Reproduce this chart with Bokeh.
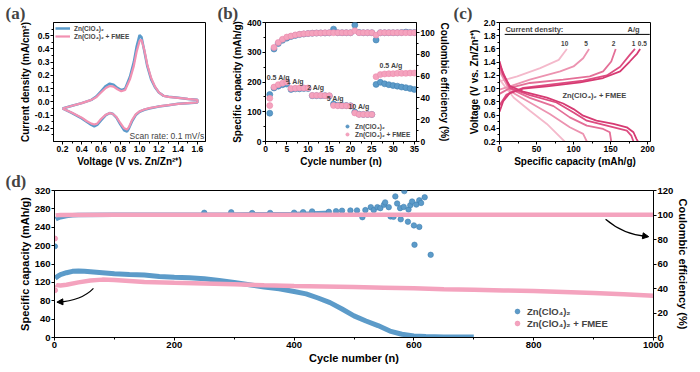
from bokeh.plotting import figure
from bokeh.layouts import column, row
from bokeh.models import (Range1d, LinearAxis, Legend, LegendItem, Label, Arrow,
                          NormalHead, SingleIntervalTicker, PrintfTickFormatter)
from bokeh.embed import file_html
from bokeh.resources import INLINE

# ---------------- (a) CV curves ----------------
cv_v_anodic = [0.2, 0.3, 0.4, 0.5, 0.55, 0.6, 0.65, 0.69, 0.73, 0.77, 0.81, 0.85, 0.9, 0.94,
               0.97, 1.0, 1.02, 1.05, 1.08, 1.12, 1.16, 1.2, 1.25, 1.3, 1.4, 1.5, 1.6]
cv_j_anodic_zn = [-0.05, -0.03, -0.01, 0.015, 0.04, 0.08, 0.12, 0.138, 0.13, 0.105, 0.088, 0.1,
                  0.19, 0.3, 0.42, 0.505, 0.49, 0.38, 0.27, 0.17, 0.11, 0.07, 0.045, 0.038,
                  0.03, 0.022, 0.015]
cv_j_anodic_fmee = [-0.05, -0.03, -0.01, 0.015, 0.035, 0.07, 0.105, 0.12, 0.115, 0.095, 0.08,
                    0.09, 0.17, 0.27, 0.38, 0.46, 0.47, 0.39, 0.28, 0.18, 0.115, 0.072, 0.045,
                    0.038, 0.03, 0.022, 0.015]
cv_v_cathodic = [1.6, 1.5, 1.4, 1.3, 1.2, 1.1, 1.05, 1.0, 0.96, 0.92, 0.89, 0.87, 0.84, 0.8,
                 0.76, 0.72, 0.69, 0.65, 0.6, 0.56, 0.53, 0.5, 0.45, 0.4, 0.3, 0.2]
cv_j_cathodic_zn = [-0.005, -0.01, -0.015, -0.025, -0.035, -0.05, -0.06, -0.075, -0.1, -0.15,
                    -0.2, -0.225, -0.215, -0.17, -0.12, -0.09, -0.085, -0.1, -0.14, -0.175,
                    -0.185, -0.175, -0.15, -0.125, -0.085, -0.05]
cv_j_cathodic_fmee = [-0.005, -0.01, -0.015, -0.025, -0.035, -0.048, -0.058, -0.072, -0.095,
                      -0.14, -0.19, -0.21, -0.2, -0.16, -0.115, -0.09, -0.085, -0.097, -0.13,
                      -0.165, -0.172, -0.165, -0.145, -0.12, -0.083, -0.05]

# ---------------- (b) rate performance ----------------
rate_cycles = list(range(1, 36))
rate_cap_zn = [158, 180, 186, 191, 193, 175, 177, 177, 178, 178, 154, 154, 154, 154, 153,
               126, 122, 121, 121, 120, 99, 92, 91, 91, 91, 192, 199, 194, 191, 188, 186,
               183, 181, 178, 175]
rate_cap_fmee = [145, 183, 191, 196, 200, 178, 179, 180, 180, 180, 155, 155, 155, 154, 154,
                 121, 120, 120, 120, 119, 96, 91, 91, 91, 91, 218, 225, 227, 228, 228, 229,
                 229, 229, 230, 230]
rate_ce_zn = [26, 85, 90, 93, 95, 96.5, 97.5, 98.3, 98.8, 99.2, 99.5, 99.7, 99.8, 99.8, 99.9,
              103.3, 100, 100, 100, 100, 107, 100.3, 100, 100, 100, 93.3, 100, 100, 100, 100,
              100, 100.2, 100.6, 100.3, 100.2]
rate_ce_fmee = [33, 86.5, 91, 94, 96, 97, 98, 98.6, 99, 99.3, 99.6, 99.7, 99.8, 99.9, 100,
                100, 100, 100, 100, 100, 101.8, 100, 100, 100, 100, 97.8, 100, 100, 100, 100,
                100, 100, 100, 100, 100]

# ---------------- (c) GCD profiles ----------------
gcd_rates = ["0.5", "1", "2", "5", "10"]
chg_cap_05 = [0, 5, 14, 32, 64, 109, 140, 163, 176, 186, 190]
chg_v_05 = [0.65, 0.81, 0.935, 1.0, 1.035, 1.095, 1.16, 1.26, 1.41, 1.53, 1.6]
chg_cap_1 = [0, 9.5, 32, 68, 113, 145, 163, 176, 183]
chg_v_1 = [0.745, 0.91, 1.01, 1.06, 1.12, 1.2, 1.33, 1.51, 1.6]
chg_cap_2 = [0, 14, 41, 86, 122, 140, 151, 157]
chg_v_2 = [0.92, 1.01, 1.085, 1.135, 1.185, 1.26, 1.41, 1.6]
chg_cap_5 = [0, 14, 41, 82, 100, 113, 121]
chg_v_5 = [0.985, 1.035, 1.135, 1.26, 1.335, 1.46, 1.6]
chg_cap_10 = [0, 24, 55, 80, 91]
chg_v_10 = [1.11, 1.185, 1.31, 1.435, 1.6]
dis_cap_05 = [0, 5, 14, 32, 64, 86, 100, 113, 131, 154, 172, 181, 185, 187]
dis_v_05 = [1.415, 1.215, 1.04, 0.955, 0.865, 0.775, 0.69, 0.59, 0.515, 0.465, 0.415, 0.34, 0.24, 0.2]
dis_cap_1 = [0, 14, 41, 77, 100, 118, 145, 172, 178, 181]
dis_v_1 = [1.365, 1.01, 0.9, 0.79, 0.64, 0.515, 0.44, 0.365, 0.29, 0.2]
dis_cap_2 = [0, 14, 41, 73, 95, 118, 140, 149, 151]
dis_v_2 = [1.315, 1.0, 0.86, 0.735, 0.565, 0.44, 0.39, 0.34, 0.2]
dis_cap_5 = [0, 14, 41, 68, 95, 113, 118]
dis_v_5 = [1.265, 0.965, 0.79, 0.615, 0.415, 0.315, 0.2]
dis_cap_10 = [0, 19, 41, 64, 88]
dis_v_10 = [1.14, 0.865, 0.665, 0.465, 0.2]

# ---------------- (d) long cycling ----------------
cyc_cap_zn = [1, 5, 10, 20, 30, 40, 50, 60, 80, 100, 125, 150, 175, 200, 225, 250, 275, 300,
              325, 350, 375, 400, 420, 440, 460, 480, 500, 520, 540, 560, 580, 600, 620, 650, 700]
cap_zn = [129, 133, 137, 141, 144, 145, 144, 143, 141, 139, 137, 136, 133, 131, 130, 128, 124,
          120, 115, 110, 106, 100, 95, 86, 76, 62, 47, 36, 26, 14, 7, 3.5, 2, 1.2, 1]
cyc_cap_fmee = [2, 3, 10, 20, 40, 60, 80, 100, 125, 150, 200, 250, 300, 350, 400, 450, 500,
                550, 600, 650, 700, 750, 800, 850, 900, 950, 1000]
cap_fmee = [115, 114, 113, 115, 120, 124, 126, 125, 123, 121, 119, 117.5, 116, 113.5, 112, 111,
            110, 108.5, 107, 105, 104, 102.5, 101, 99, 97, 94, 91]
cyc_ce_zn = [2, 5, 10, 20, 30, 40, 100, 200, 300, 400, 430, 460]
ce_zn = [96.5, 97.3, 98.2, 99.2, 99.7, 100, 100.2, 100.2, 100.4, 100.8, 101.2, 101.8]
cyc_ce_fmee = [2, 10, 100, 300, 500, 700, 900, 1000]
ce_fmee = [99.7, 100.1, 100.2, 100.2, 100.2, 100.2, 100.2, 100.2]
scat_cyc_zn = [250, 295, 330, 360, 400, 415, 430, 458, 470, 480, 494, 505, 514, 519, 528, 533,
               539, 544, 550, 552, 558, 561, 566, 569, 572, 577, 578, 583, 584, 590, 591, 594,
               597, 600, 601, 604, 609, 609, 612, 618, 628]
scat_ce_zn = [101.8, 102.2, 101.6, 101.7, 101.9, 102.3, 102.9, 102.6, 103.1, 103.5, 103.7,
              103.7, 98.2, 104, 106.4, 104, 106.4, 105.6, 108.4, 110.3, 106.4, 98.8, 98.5,
              115.2, 109.4, 105.6, 96.5, 106.6, 119.5, 94.5, 104.5, 108, 111, 91.5, 75.7,
              108.5, 90.3, 112, 109.8, 114.5, 67.5]
first_cycle = [1]
first_ce_zn = [74.4]
first_ce_fmee = [80.8]
first_cap_fmee = [103]

FONT = "Liberation Sans"
SERIF = "Liberation Serif"
BLUE = "#5c9bc9"
BLUE_EDGE = "#3f7fb1"
PINK = "#f4a3be"
PINK_EDGE = "#ec8aac"
CV_BLUE = "#5a9bcb"
CV_PINK = "#f291b2"
GCD_COLORS = ["#d63a72", "#dd4c80", "#e46f97", "#ec93b0", "#f4b9cb"]


def make_fig(w, h, xr, yr, lb, rb, tb, bb, tag, tag_off):
    p = figure(width=w, height=h, x_range=xr, y_range=yr, output_backend="svg",
               toolbar_location=None, min_border_left=lb, min_border_right=rb,
               min_border_top=tb, min_border_bottom=bb)
    p.xgrid.visible = False
    p.ygrid.visible = False
    p.outline_line_color = "black"
    p.outline_line_alpha = 1.0
    p.outline_line_width = 1
    p.title.text = tag
    p.title.text_font = SERIF
    p.title.text_font_style = "bold"
    p.title.text_font_size = "17px"
    p.title.align = "left"
    p.title.offset = tag_off
    p.title.standoff = 0
    return p


def style_axis(ax, label, ticker, tfs, lfs, fmt=None):
    ax.ticker = ticker
    if fmt:
        ax.formatter = PrintfTickFormatter(format=fmt)
    ax.axis_label = label
    ax.axis_line_color = "black"
    ax.major_tick_in = 0
    ax.major_tick_out = 3
    ax.minor_tick_in = 0
    ax.minor_tick_out = 2
    ax.major_tick_line_color = "black"
    ax.minor_tick_line_color = "black"
    ax.major_label_text_font = FONT
    ax.major_label_text_font_style = "bold"
    ax.major_label_text_font_size = tfs
    ax.major_label_text_color = "black"
    ax.major_label_standoff = 1
    ax.axis_label_text_font = FONT
    ax.axis_label_text_font_style = "bold"
    ax.axis_label_text_font_size = lfs
    ax.axis_label_text_color = "black"
    ax.axis_label_standoff = 1


def txt(p, x, y, text, size, bold=True, align="left", base="middle", yr="default"):
    p.add_layout(Label(x=x, y=y, text=text, text_font=FONT,
                       text_font_style="bold" if bold else "normal", text_font_size=size,
                       text_align=align, text_baseline=base, y_range_name=yr))


TOP_H = 169

# ---------------- panel (a) ----------------
pa = make_fig(215, TOP_H, Range1d(0.107, 1.684), Range1d(-0.3, 0.6), 53, 10, 22, 27, "(a)", -48)
cv_v = cv_v_anodic + cv_v_cathodic
ra1 = pa.line(cv_v, cv_j_anodic_zn + cv_j_cathodic_zn, line_color=CV_BLUE, line_width=2.5)
ra2 = pa.line(cv_v, cv_j_anodic_fmee + cv_j_cathodic_fmee, line_color=CV_PINK, line_width=2.2)
style_axis(pa.xaxis[0], "Voltage (V vs. Zn/Zn²⁺)", SingleIntervalTicker(interval=0.2, num_minor_ticks=2), "8.5px", "10px", "%.1f")
style_axis(pa.yaxis[0], "Current density (mA/cm²)", SingleIntervalTicker(interval=0.1, num_minor_ticks=2), "8.5px", "10px", "%.1f")
leg_a = Legend(items=[LegendItem(label="Zn(ClO₄)₂", renderers=[ra1]),
                      LegendItem(label="Zn(ClO₄)₂ + FMEE", renderers=[ra2])],
               location="top_left", label_text_font=FONT, label_text_font_style="bold",
               label_text_font_size="6.5px", glyph_width=15, glyph_height=8, label_height=8,
               spacing=0, padding=2, margin=0, label_standoff=4,
               border_line_alpha=0, background_fill_alpha=0)
pa.add_layout(leg_a)
txt(pa, 1.67, -0.293, "Scan rate: 0.1 mV/s", "8.5px", bold=False, align="right", base="bottom")

# ---------------- panel (b) ----------------
pb = make_fig(237, TOP_H, Range1d(0, 35.5), Range1d(0, 400), 50, 35, 22, 27, "(b)", -48)
pb.extra_y_ranges = {"ce": Range1d(0, 109.4)}
rb1 = pb.scatter(rate_cycles, rate_cap_zn, size=6, fill_color=BLUE, line_color=BLUE_EDGE, line_width=0.6)
pb.scatter(rate_cycles, rate_ce_zn, size=6, fill_color=BLUE, line_color=BLUE_EDGE, line_width=0.6, y_range_name="ce")
rb2 = pb.scatter(rate_cycles, rate_cap_fmee, size=6, fill_color=PINK, line_color=PINK_EDGE, line_width=0.6)
pb.scatter(rate_cycles, rate_ce_fmee, size=6, fill_color=PINK, line_color=PINK_EDGE, line_width=0.6, y_range_name="ce")
style_axis(pb.xaxis[0], "Cycle number (n)", SingleIntervalTicker(interval=5, num_minor_ticks=2), "8.5px", "10px")
style_axis(pb.yaxis[0], "Specific capacity (mAh/g)", SingleIntervalTicker(interval=100, num_minor_ticks=2), "8.5px", "10px")
axb = LinearAxis(y_range_name="ce")
style_axis(axb, "Coulombic efficiency (%)", SingleIntervalTicker(interval=20, num_minor_ticks=2), "8.5px", "10px")
pb.add_layout(axb, "right")
for lx, ly, lt in [(0.3, 215, "0.5 A/g"), (5.0, 201, "1 A/g"), (9.8, 180, "2 A/g"),
                   (14.4, 146, "5 A/g"), (19.5, 119, "10 A/g"), (26.8, 254, "0.5 A/g")]:
    txt(pb, lx, ly, lt, "7px")
leg_b = Legend(items=[LegendItem(label="Zn(ClO₄)₂", renderers=[rb1]),
                      LegendItem(label="Zn(ClO₄)₂ + FMEE", renderers=[rb2])],
               location=(77, 3), label_text_font=FONT, label_text_font_style="bold",
               label_text_font_size="6.5px", glyph_width=10, glyph_height=8, label_height=8,
               spacing=0, padding=0, margin=0, label_standoff=3,
               border_line_alpha=0, background_fill_alpha=0)
pb.add_layout(leg_b)

# ---------------- panel (c) ----------------
pc = make_fig(248, TOP_H, Range1d(0, 204), Range1d(0.2, 2.0), 47, 50, 22, 27, "(c)", -46)
chg = [(chg_cap_05, chg_v_05), (chg_cap_1, chg_v_1), (chg_cap_2, chg_v_2), (chg_cap_5, chg_v_5), (chg_cap_10, chg_v_10)]
dis = [(dis_cap_05, dis_v_05), (dis_cap_1, dis_v_1), (dis_cap_2, dis_v_2), (dis_cap_5, dis_v_5), (dis_cap_10, dis_v_10)]
for i in range(4, -1, -1):
    pc.line(chg[i][0], chg[i][1], line_color=GCD_COLORS[i], line_width=1.8)
    pc.line(dis[i][0], dis[i][1], line_color=GCD_COLORS[i], line_width=1.8)
style_axis(pc.xaxis[0], "Specific capacity (mAh/g)", SingleIntervalTicker(interval=50, num_minor_ticks=2), "8.5px", "10px")
style_axis(pc.yaxis[0], "Voltage (V vs. Zn/Zn²⁺)", SingleIntervalTicker(interval=0.2, num_minor_ticks=2), "8.5px", "10px", "%.1f")
pc.segment(x0=[7], y0=[1.82], x1=[203], y1=[1.82], line_color="black", line_width=1)
txt(pc, 8, 1.9, "Current density:", "7.5px")
txt(pc, 173, 1.9, "A/g", "7.5px")
for lx, lt in [(88, "10"), (117, "5"), (154, "2"), (181, "1"), (193, "0.5")]:
    txt(pc, lx, 1.64, lt, "6.5px", align="center", base="bottom")
txt(pc, 85, 0.9, "Zn(ClO₄)₂ + FMEE", "7.5px")

# ---------------- panel (d) ----------------
pd = make_fig(700, 201, Range1d(0, 1000), Range1d(0, 320), 54, 47, 17, 33, "(d)", -49)
pd.extra_y_ranges = {"ce": Range1d(0, 120)}
pd.line(cyc_ce_zn, ce_zn, line_color=BLUE, line_width=4.5, y_range_name="ce")
pd.line(cyc_cap_zn, cap_zn, line_color=BLUE, line_width=5)
pd.line(cyc_cap_fmee, cap_fmee, line_color=PINK, line_width=4.5)
rd1 = pd.scatter(scat_cyc_zn, scat_ce_zn, size=5.5, fill_color=BLUE, line_color=BLUE_EDGE, line_width=0.6, y_range_name="ce")
pd.scatter(first_cycle, first_ce_zn, size=5, fill_color=BLUE, line_color=BLUE_EDGE, line_width=0.6, y_range_name="ce")
pd.line(cyc_ce_fmee, ce_fmee, line_color=PINK, line_width=4.5, y_range_name="ce")
rd2 = pd.scatter(first_cycle, first_ce_fmee, size=5, fill_color=PINK, line_color=PINK_EDGE, line_width=0.6, y_range_name="ce")
pd.scatter(first_cycle, first_cap_fmee, size=5, fill_color=PINK, line_color=PINK_EDGE, line_width=0.6)
style_axis(pd.xaxis[0], "Cycle number (n)", SingleIntervalTicker(interval=200, num_minor_ticks=2), "9.5px", "11px")
style_axis(pd.yaxis[0], "Specific capacity (mAh/g)", SingleIntervalTicker(interval=40, num_minor_ticks=0), "9.5px", "11px")
axd = LinearAxis(y_range_name="ce")
style_axis(axd, "Coulombic efficiency (%)", SingleIntervalTicker(interval=20, num_minor_ticks=0), "9.5px", "11px")
pd.add_layout(axd, "right")
# arrows
pd.quadratic(x0=[65], y0=[107], x1=[6], y1=[77], cx=[45], cy=[80], line_color="black", line_width=1.2)
pd.add_layout(Arrow(end=NormalHead(size=6, fill_color="black", line_color="black"),
                    x_start=12, y_start=77.5, x_end=4, y_end=77, line_width=1.2))
pd.quadratic(x0=[920], y0=[96.5], x1=[988], y1=[82.5], cx=[950], cy=[84], line_color="black",
             line_width=1.2, y_range_name="ce")
pd.add_layout(Arrow(end=NormalHead(size=6, fill_color="black", line_color="black"),
                    x_start=980, y_start=83.2, x_end=992, y_end=82.3, line_width=1.2,
                    y_range_name="ce"))
leg_d = Legend(items=[LegendItem(label="Zn(ClO₄)₂", renderers=[rd1]),
                      LegendItem(label="Zn(ClO₄)₂ + FMEE", renderers=[rd2])],
               location=(457, 8), label_text_font=FONT, label_text_font_style="bold",
               label_text_font_size="9.5px", glyph_width=12, glyph_height=12, label_height=12,
               spacing=0, padding=0, margin=0, label_standoff=4,
               border_line_alpha=0, background_fill_alpha=0)
pd.add_layout(leg_d)

layout = column(row(pa, pb, pc), pd)
open("out.html", "w").write(file_html(layout, INLINE))
